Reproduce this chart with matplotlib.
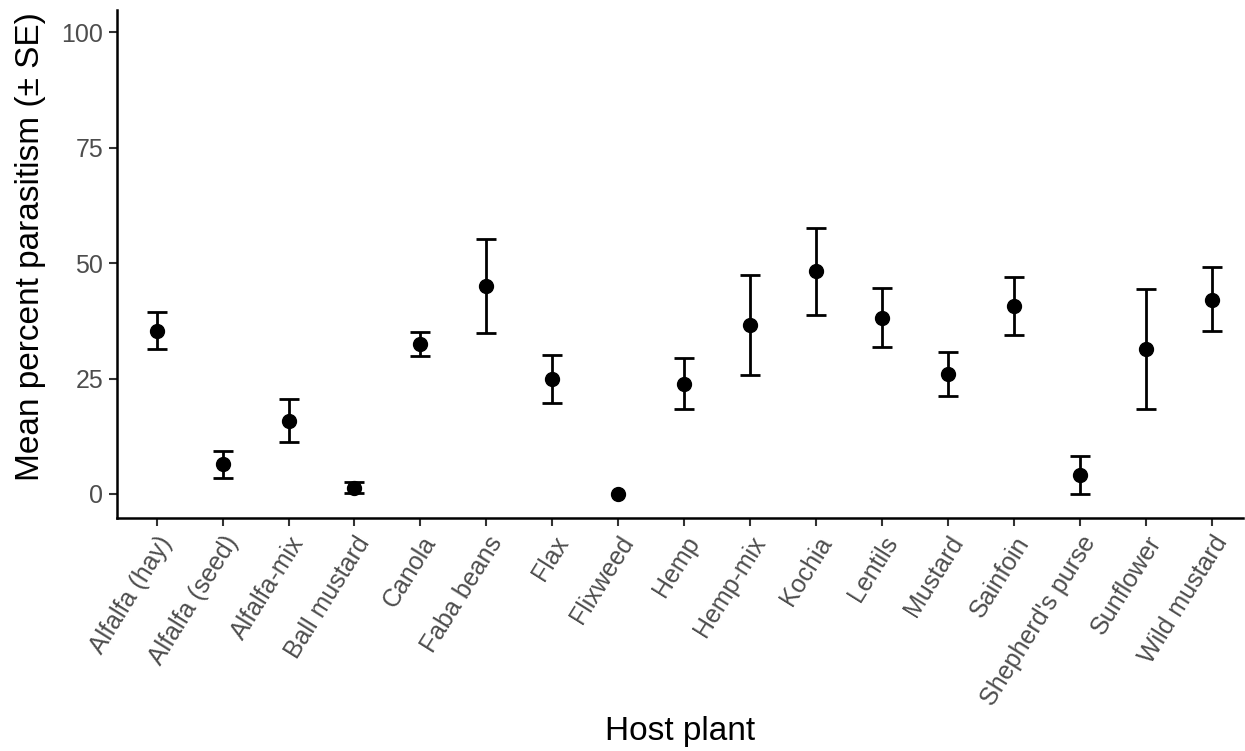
import matplotlib
matplotlib.use("Agg")
import matplotlib.pyplot as plt
import numpy as np

hosts = ["Alfalfa (hay)", "Alfalfa (seed)", "Alfalfa-mix", "Ball mustard", "Canola",
         "Faba beans", "Flax", "Flixweed", "Hemp", "Hemp-mix", "Kochia", "Lentils",
         "Mustard", "Sainfoin", "Shepherd's purse", "Sunflower", "Wild mustard"]
means = [35.4, 6.4, 15.9, 1.4, 32.4, 45.0, 24.9, 0.0, 23.9, 36.6, 48.3, 38.2,
         26.0, 40.7, 4.1, 31.3, 42.1]
upper = [39.3, 9.3, 20.6, 2.7, 35.0, 55.3, 30.0, 0.0, 29.5, 47.4, 57.7, 44.5,
         30.8, 46.9, 8.2, 44.4, 49.1]
lower = [31.5, 3.5, 11.2, 0.2, 29.8, 34.8, 19.7, 0.0, 18.3, 25.8, 38.7, 31.9,
         21.3, 34.4, 0.0, 18.3, 35.2]

plt.rcParams['font.family'] = ['Liberation Sans', 'DejaVu Sans']

W, H = 1245, 751
fig = plt.figure(figsize=(W/100, H/100), dpi=100)
ax = fig.add_axes([117/W, 1 - 518/H, (1243-117)/W, (518-10)/H])

x = np.arange(len(hosts))
m = np.array(means)
up = np.array(upper)
lo = np.array(lower)
has_err = (up - lo) > 0
yerr = np.vstack([m[has_err] - lo[has_err], up[has_err] - m[has_err]])
ax.errorbar(x[has_err], m[has_err], yerr=yerr, fmt='none', ecolor='black',
            elinewidth=2, capsize=7, capthick=2)
ax.plot(x, m, 'o', color='black', ms=10, zorder=3)

ax.set_xlim(-0.6, 16.47)
ax.set_ylim(-5.2, 104.8)
ax.set_yticks([0, 25, 50, 75, 100])
ax.set_xticks(x)
ax.set_xticklabels(hosts, rotation=58, ha='right', va='top', rotation_mode='anchor')
ax.tick_params(axis='both', labelsize=18, labelcolor='#4D4D4D', color='#333333',
               length=6, width=1.5, pad=4)
for s in ['top', 'right']:
    ax.spines[s].set_visible(False)
for s in ['left', 'bottom']:
    ax.spines[s].set_linewidth(1.8)
ax.set_ylabel("Mean percent parasitism (± SE)", fontsize=24)
ax.set_xlabel("Host plant", fontsize=24)
ax.yaxis.set_label_coords(-0.063, 0.534)
ax.xaxis.set_label_coords(0.5, -0.39)

fig.savefig("out.png", dpi=100)
